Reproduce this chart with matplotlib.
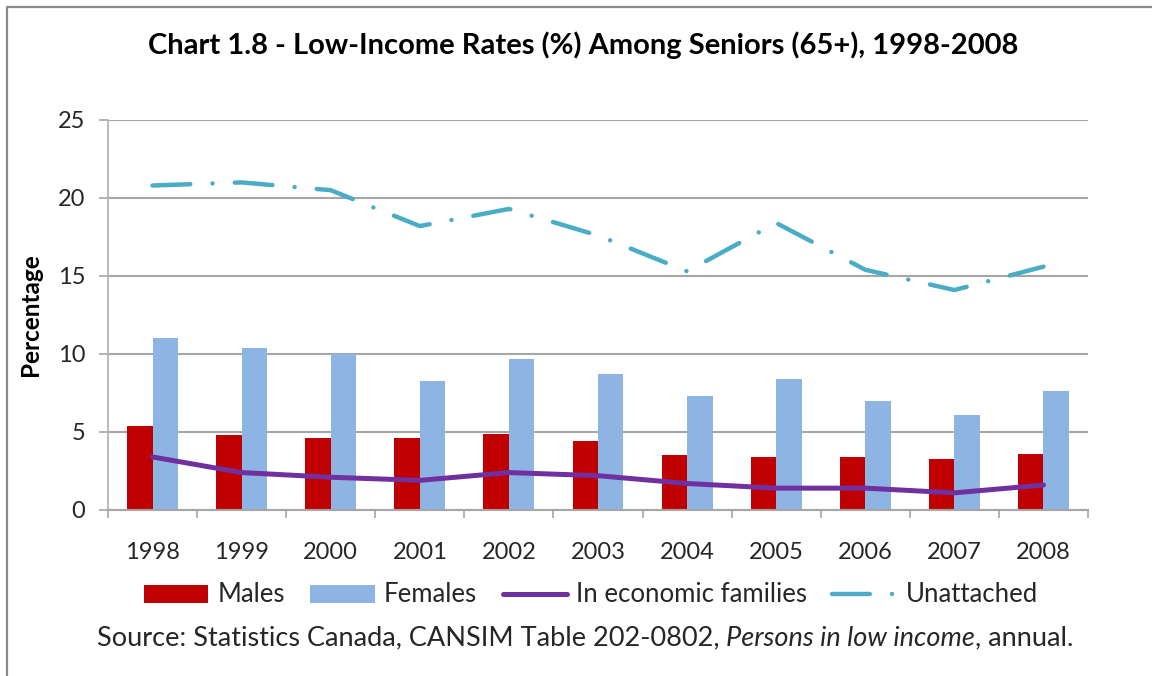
import matplotlib
matplotlib.use('Agg')
import matplotlib.pyplot as plt
import numpy as np
from matplotlib.lines import Line2D

# data
years = ['1998', '1999', '2000', '2001', '2002', '2003', '2004', '2005', '2006', '2007', '2008']
males = [5.4, 4.8, 4.6, 4.6, 4.9, 4.4, 3.5, 3.4, 3.4, 3.3, 3.6]
females = [11.0, 10.4, 10.0, 8.3, 9.7, 8.7, 7.3, 8.4, 7.0, 6.1, 7.6]
economic_families = [3.4, 2.4, 2.1, 1.9, 2.4, 2.2, 1.7, 1.4, 1.4, 1.1, 1.6]
unattached = [20.8, 21.0, 20.5, 18.2, 19.3, 17.6, 15.3, 18.4, 15.4, 14.1, 15.6]

TITLE = 'Chart 1.8 - Low-Income Rates (%) Among Seniors (65+), 1998-2008'
C_MALE = '#C00000'
C_FEMALE = '#8EB4E3'
C_FAM = '#7030A0'
C_UNATT = '#4BACC6'
GRID = '#A6A6A6'
TXT = '#262626'

plt.rcParams['font.family'] = ['Lato', 'DejaVu Sans']

fig = plt.figure(figsize=(11.52, 6.76), dpi=100)
ax = fig.add_axes([108 / 1152, 1 - 510 / 676, 980 / 1152, 390 / 676])

x = np.arange(len(years))
w = 0.286
b1 = ax.bar(x - w / 2, males, w, color=C_MALE, label='Males', zorder=2)
b2 = ax.bar(x + w / 2, females, w, color=C_FEMALE, label='Females', zorder=2)
l1, = ax.plot(x, economic_families, color=C_FAM, lw=3.6, solid_capstyle='round',
              label='In economic families', zorder=3)
l2, = ax.plot(x, unattached, color=C_UNATT, lw=3.2, dashes=(8.5, 5.0, 0.01, 5.0),
              dash_capstyle='round', label='Unattached', zorder=3)

ax.set_xlim(-0.5, len(years) - 0.5)
ax.set_ylim(0, 25)
ax.set_yticks([0, 5, 10, 15, 20, 25])
ax.yaxis.grid(True, color=GRID, lw=1.5, zorder=0)
ax.set_axisbelow(True)

# category boundaries as major ticks, labels on minor ticks at centres
ax.set_xticks(np.arange(len(years) + 1) - 0.5)
ax.set_xticklabels([])
ax.set_xticks(x, minor=True)
ax.set_xticklabels(years, minor=True)
ax.tick_params(axis='x', which='major', length=6, width=1.2, color=GRID, direction='out')
ax.tick_params(axis='x', which='minor', length=0, pad=23, labelsize=17, labelcolor=TXT)
ax.tick_params(axis='y', length=6.5, width=1.2, color=GRID, pad=10, labelsize=17, labelcolor=TXT)

for s in ['top', 'right']:
    ax.spines[s].set_visible(False)
ax.spines['left'].set_color('#B0B0B0')
ax.spines['left'].set_linewidth(1.2)
ax.spines['bottom'].set_color(GRID)
ax.spines['bottom'].set_linewidth(1.5)

fig.text(583 / 1152, 1 - 45 / 676, TITLE, ha='center', va='center',
         fontsize=21, fontweight='bold', color='black')
fig.text(30 / 1152, 1 - 315 / 676, 'Percentage', rotation=90, ha='center', va='center',
         fontsize=17.5, fontweight='bold', color='black')

fig.legend(handles=[b1, b2, l1, l2], loc='center',
           bbox_to_anchor=(591 / 1152, 1 - 595 / 676), ncol=4, frameon=False,
           fontsize=18.5, handlelength=2.5, handletextpad=0.35, columnspacing=1.0,
           labelcolor=TXT)

# source line, with the italic title in the middle
renderer = fig.canvas.get_renderer()
parts = [('Source: Statistics Canada, CANSIM Table 202-0802, ', 'normal'),
         ('Persons in low income', 'italic'),
         (', annual.', 'normal')]
xpos = 97
ypos = 1 - 638 / 676
for s, style in parts:
    t = fig.text(xpos / 1152, ypos, s, ha='left', va='center', fontsize=19.5,
                 style=style, color=TXT)
    bb = t.get_window_extent(renderer)
    xpos += bb.width

# chart-area border (only left and top visible in the reference)
fig.add_artist(Line2D([7 / 1152, 7 / 1152, 1.0], [0.0, 1 - 7 / 676, 1 - 7 / 676],
                      transform=fig.transFigure, color='#8C8C8C', lw=1.6))

fig.savefig('out.png', dpi=100)
